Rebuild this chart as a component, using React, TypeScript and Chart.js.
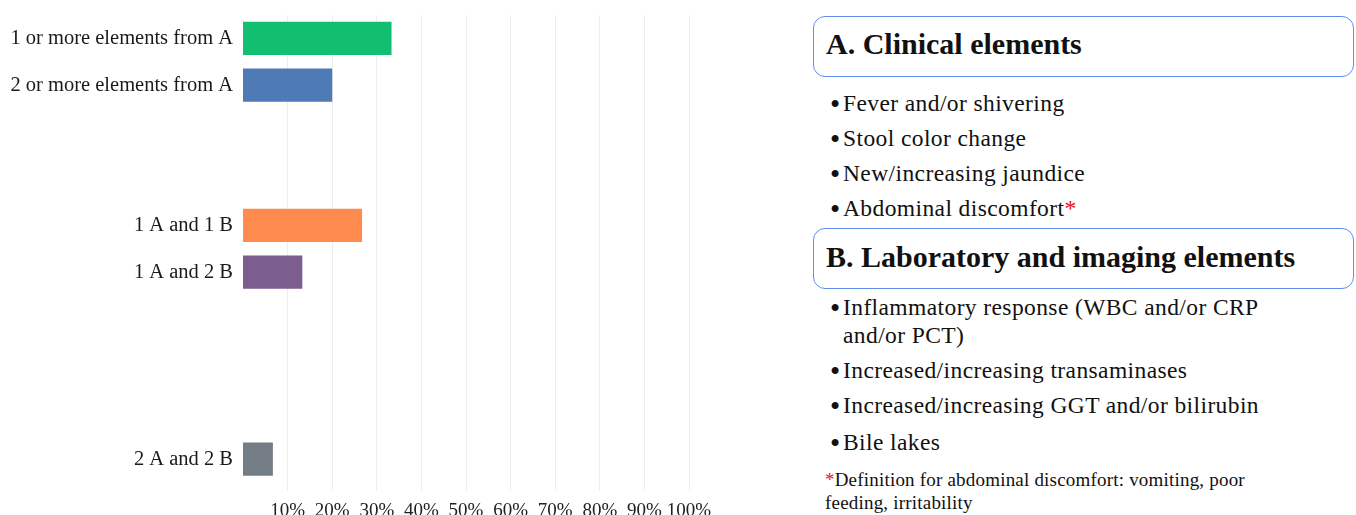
import React, { useEffect, useRef } from "react";
import { Chart, registerables } from "chart.js";

Chart.register(...registerables);

const categories = [
  "1 or more elements from A",
  "2 or more elements from A",
  "",
  "",
  "1 A and 1 B",
  "1 A and 2 B",
  "",
  "",
  "",
  "2 A and 2 B",
];
const values = [33.3, 20, null, null, 26.7, 13.3, null, null, null, 6.7];
const barColors = [
  "#12be6f",
  "#4e7bb6",
  "#ffffff",
  "#ffffff",
  "#ff8b4f",
  "#7b5d8e",
  "#ffffff",
  "#ffffff",
  "#ffffff",
  "#747c85",
];
const xTickValues = [10, 20, 30, 40, 50, 60, 70, 80, 90, 100];

const clinicalTitle = "A. Clinical elements";
const clinicalItems = [
  "Fever and/or shivering",
  "Stool color change",
  "New/increasing jaundice",
  "Abdominal discomfort",
];
const labTitle = "B. Laboratory and imaging elements";
const labItems = [
  ["Inflammatory response (WBC and/or CRP", "and/or PCT)"],
  ["Increased/increasing transaminases"],
  ["Increased/increasing GGT and/or bilirubin"],
  ["Bile lakes"],
];
const footnoteLines = [
  "Definition for abdominal discomfort: vomiting, poor",
  "feeding, irritability",
];

const SERIF = "'Liberation Serif', 'DejaVu Serif', serif";

function Line({ y, x, size, bold, children, lh = 30, ls = 0 }: any) {
  return (
    <div
      style={{
        position: "absolute",
        left: x,
        top: y - lh / 2,
        height: lh,
        lineHeight: lh + "px",
        fontSize: size,
        fontWeight: bold ? 700 : 400,
        fontFamily: SERIF,
        letterSpacing: ls,
        color: "#111",
        whiteSpace: "nowrap",
      }}
    >
      {children}
    </div>
  );
}

export default function App() {
  const ref = useRef<HTMLCanvasElement>(null);

  useEffect(() => {
    if (!ref.current) return;
    const chart = new Chart(ref.current, {
      type: "bar",
      data: {
        labels: categories,
        datasets: [
          {
            data: values as any,
            backgroundColor: barColors,
            barPercentage: 0.713,
            categoryPercentage: 1,
          },
        ],
      },
      options: {
        indexAxis: "y",
        animation: false,
        responsive: false,
        maintainAspectRatio: false,
        layout: { padding: { top: 15, right: 51, left: 0, bottom: 0 } },
        plugins: { legend: { display: false }, tooltip: { enabled: false } },
        scales: {
          x: {
            min: 0,
            max: 100,
            position: "bottom",
            afterBuildTicks: (s: any) => {
              s.ticks = xTickValues.map((v) => ({ value: v }));
            },
            afterFit: (s: any) => {
              s.height = 47.5;
              s.paddingLeft = 0;
              s.paddingRight = 0;
            },
            grid: {
              color: "#ededed",
              lineWidth: 1,
              drawTicks: true,
              tickLength: 8,
              tickColor: "#ededed",
            },
            border: { display: false },
            ticks: {
              callback: (v: any) => v + "%",
              font: { family: SERIF, size: 19 },
              color: "#222",
              padding: 9,
              maxRotation: 0,
              minRotation: 0,
              autoSkip: false,
            },
          },
          y: {
            afterFit: (s: any) => {
              s.width = 243;
              s.paddingTop = 0;
              s.paddingBottom = 0;
            },
            grid: { display: false },
            border: { display: false },
            ticks: {
              font: { family: SERIF, size: 20.5 },
              color: "#1a1a1a",
              padding: 2,
              autoSkip: false,
            },
          },
        },
      },
    });
    return () => chart.destroy();
  }, []);

  const boxStyle = (top: number, height: number): React.CSSProperties => ({
    position: "absolute",
    left: 813,
    top,
    width: 541,
    height,
    boxSizing: "border-box",
    border: "1.5px solid #5d8ef0",
    borderRadius: 12,
  });

  const bulletX = 830;
  const textX = 843;
  const clinicalY = [103, 138, 173, 208];
  const labY = [[306.7, 335], [370], [405], [441.7]];
  const footY = [480, 503];
  const fs = 23.5;
  const ls = 0.4;
  const bulletSize = 29;

  return (
    <div
      style={{
        position: "fixed",
        left: 0,
        top: 0,
        width: 1356,
        height: 515,
        overflow: "hidden",
        background: "#fff",
      }}
    >
      <canvas
        ref={ref}
        width={740}
        height={530}
        style={{ position: "absolute", left: 0, top: 0, width: 740, height: 530 }}
      />
      <div style={boxStyle(16, 61)} />
      <Line x={826} y={44} size={30} bold lh={40}>
        {clinicalTitle}
      </Line>
      {clinicalItems.map((t, i) => (
        <React.Fragment key={"c" + i}>
          <Line x={bulletX} y={clinicalY[i] + 1} size={bulletSize}>•</Line>
          <Line x={textX} y={clinicalY[i]} size={fs} ls={ls}>
            {t}
            {i === clinicalItems.length - 1 ? (
              <span style={{ color: "#e8101a" }}>*</span>
            ) : null}
          </Line>
        </React.Fragment>
      ))}
      <div style={boxStyle(228, 61)} />
      <Line x={826} y={257} size={30} bold lh={40}>
        {labTitle}
      </Line>
      {labItems.map((lines, i) =>
        lines.map((t, j) => (
          <React.Fragment key={"l" + i + "-" + j}>
            {j === 0 ? (
              <Line x={bulletX} y={labY[i][j] + 1} size={bulletSize}>•</Line>
            ) : null}
            <Line x={textX} y={labY[i][j]} size={fs} ls={ls}>
              {t}
            </Line>
          </React.Fragment>
        ))
      )}
      {footnoteLines.map((t, i) => (
        <Line key={"f" + i} x={825} y={footY[i]} size={19} lh={24} ls={0.2}>
          {i === 0 ? <span style={{ color: "#e8101a" }}>*</span> : null}
          {t}
        </Line>
      ))}
    </div>
  );
}
